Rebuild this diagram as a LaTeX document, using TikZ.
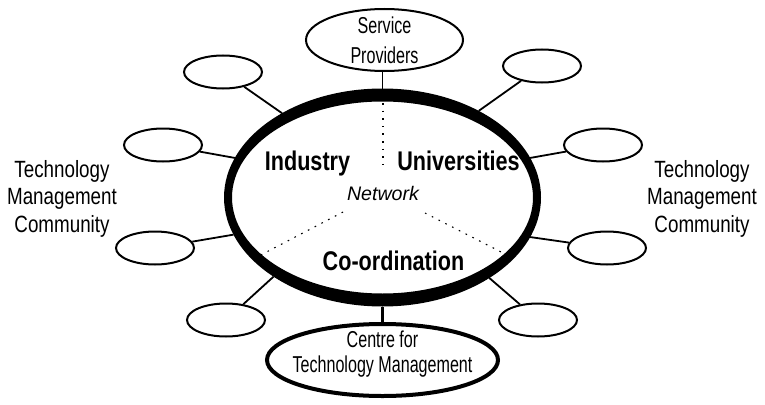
\documentclass[tikz,border=0pt]{standalone}
\usepackage{fontspec}
\setmainfont{Liberation Sans}
\newfontfamily\narrowfont[FakeStretch=0.70]{Liberation Sans}
\newfontfamily\captionfont[FakeStretch=0.80]{Liberation Sans}
\newfontfamily\heavyfont[FakeStretch=0.80]{Liberation Sans}
\usetikzlibrary{shapes.geometric}

\begin{document}
\begin{tikzpicture}[x=1pt,y=-1pt,
  sat/.style={ellipse, draw, line width=2pt, minimum width=78pt, minimum height=33pt, inner sep=0pt},
  link/.style={line width=1.8pt},
  sector/.style={line width=1.1pt, dash pattern=on 1.6pt off 6pt},
  sector label/.style={font=\heavyfont\bfseries\fontsize{27}{30}\selectfont, inner sep=0pt, anchor=base},
  side label/.style={font=\narrowfont\fontsize{23}{27.5}\selectfont, align=center, inner sep=0pt},
  community/.style={font=\captionfont\fontsize{23.5}{27.5}\selectfont, align=center, inner sep=0pt},
]
\path[use as bounding box] (0,0) rectangle (765,404);

% central network ring (thicker at top and bottom)
\fill[even odd rule] (382.5,197.5) ellipse [x radius=158.5pt, y radius=109pt]
  (382.5,197.5) ellipse [x radius=150.5pt, y radius=96pt];
\node[ellipse, minimum width=317pt, minimum height=218pt, inner sep=0pt, outer sep=0pt] (hub) at (382.5,197.5) {};

% sector dividers
\coordinate (dtop1) at (383,103);
\coordinate (dtop2) at (383,165);
\coordinate (dl1) at (343,212);
\coordinate (dl2) at (257,257);
\coordinate (dr1) at (425,213);
\coordinate (dr2) at (505,254);
\draw[sector] (dtop1) -- (dtop2);
\draw[sector] (dl1) -- (dl2);
\draw[sector] (dr1) -- (dr2);

% sector labels
\node[sector label] (ind) at (307.5,170) {Industry};
\node[sector label] (uni) at (458.5,170) {Universities};
\node[sector label] (coo) at (393.5,270) {Co-ordination};
\node[font=\itshape\fontsize{19.6}{22}\selectfont, inner sep=0pt, anchor=base] (net) at (383,200.7) {Network};

% service providers and centre
\node[ellipse, draw, line width=2pt, minimum width=157pt, minimum height=62pt, inner sep=0pt] (sp) at (384.5,40) {};
\node[side label, font=\narrowfont\fontsize{23}{30}\selectfont] (sptext) at (384.5,40) {Service\\Providers};
\node[ellipse, draw, line width=4pt, minimum width=231pt, minimum height=72pt, inner sep=0pt] (ctm) at (382.5,360) {};
\node[side label, font=\narrowfont\fontsize{23}{25}\selectfont] (ctmtext) at (382.5,354.5) {Centre for\\Technology Management};
\draw[link] (hub.90) -- (hub.90 |- sp.south);
\draw[line width=3.5pt] (hub.270) -- (hub.270 |- ctm.north);

% community members
\node[sat] (tl) at (223,72) {};
\node[sat] (l2) at (163,145) {};
\node[sat] (l3) at (155,248) {};
\node[sat] (bl) at (226,320) {};
\node[sat] (tr) at (542,66) {};
\node[sat] (r2) at (603,145) {};
\node[sat] (r3) at (607,248) {};
\node[sat] (br) at (538,320) {};
\draw[link] (tl) -- (hub.140);
\draw[link] (l2) -- (hub.165);
\draw[link] (l3) -- (hub.194);
\draw[link] (bl) -- (hub.216);
\draw[link] (tr) -- (hub.42);
\draw[link] (r2) -- (hub.15);
\draw[link] (r3) -- (hub.345);
\draw[link] (br) -- (hub.323);

% community captions
\node[community] (leftcap) at (62,198.5) {Technology\\Management\\Community};
\node[community] (rightcap) at (702,198.5) {Technology\\Management\\Community};
\end{tikzpicture}
\end{document}
